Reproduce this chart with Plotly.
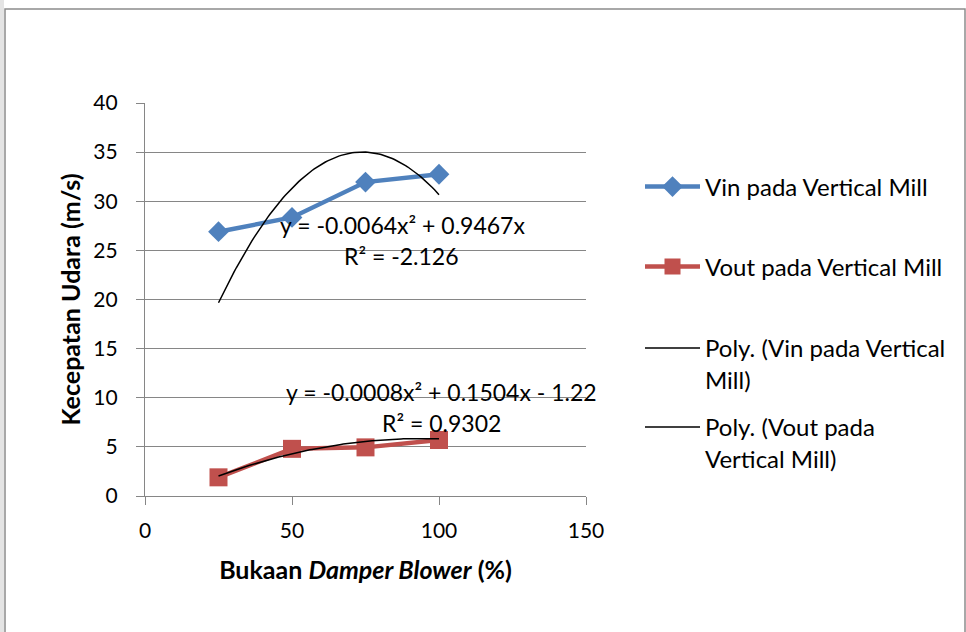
import plotly.graph_objects as go
import numpy as np

# ---- data ----
bukaan = [25, 50, 75, 100]
vin = [26.9, 28.35, 31.95, 32.75]
vout = [1.9, 4.8, 4.95, 5.7]

# trendline coefficients as shown on the chart (a*x^2 + b*x + c)
vin_poly = [-0.0064, 0.9467, 0.0]
vout_poly = [-0.0008, 0.1504, -1.22]

vin_eq = "y = -0.0064x² + 0.9467x"
vin_r2 = "R² = -2.126"
vout_eq = "y = -0.0008x² + 0.1504x - 1.22"
vout_r2 = "R² = 0.9302"

x_ticks = [0, 50, 100, 150]
y_ticks = [0, 5, 10, 15, 20, 25, 30, 35, 40]

names = ["Vin pada Vertical Mill", "Vout pada Vertical Mill",
         "Poly. (Vin pada Vertical<br>Mill)", "Poly. (Vout pada<br>Vertical Mill)"]

# ---- layout geometry (pixels) ----
W, H = 966, 632
L, R, T, B = 145, 586, 103, 496
FONT = "Lato"
BLUE = "#4F81BD"
RED = "#C0504D"
GRID = "#868686"


def px(x):
    return (x - L) / (R - L)


def py(y):
    return (B - y) / (B - T)


xs = np.linspace(bukaan[0], bukaan[-1], 100)
vin_fit = np.polyval(vin_poly, xs)
vout_fit = np.polyval(vout_poly, xs)

fig = go.Figure()
fig.add_trace(go.Scatter(x=bukaan, y=vin, mode="lines+markers", name=names[0],
                         line=dict(color=BLUE, width=4.5),
                         marker=dict(symbol="diamond", size=16, color=BLUE),
                         legend="legend"))
fig.add_trace(go.Scatter(x=bukaan, y=vout, mode="lines+markers", name=names[1],
                         line=dict(color=RED, width=4.5),
                         marker=dict(symbol="square", size=18, color=RED),
                         legend="legend2"))
fig.add_trace(go.Scatter(x=xs, y=vin_fit, mode="lines", name=names[2],
                         line=dict(color="black", width=1.5), legend="legend3"))
fig.add_trace(go.Scatter(x=xs, y=vout_fit, mode="lines", name=names[3],
                         line=dict(color="black", width=1.5), legend="legend4"))

leg_common = dict(font=dict(family=FONT, size=24, color="black"), itemwidth=55,
                  bgcolor="rgba(0,0,0,0)", xanchor="left", yanchor="middle",
                  valign="top", itemclick=False, itemdoubleclick=False)
lx = px(640)
fig.update_layout(
    legend=dict(x=lx, y=py(187), **leg_common),
    legend2=dict(x=lx, y=py(267), **leg_common),
    legend3=dict(x=lx, y=py(364), **leg_common),
    legend4=dict(x=lx, y=py(443), **leg_common),
)

ann_font = dict(family=FONT, size=23, color="black")
annotations = [
    dict(text=vin_eq, x=px(402), y=py(225)),
    dict(text=vin_r2, x=px(401), y=py(256)),
    dict(text=vout_eq, x=px(441), y=py(392)),
    dict(text=vout_r2, x=px(441), y=py(423)),
]
for a in annotations:
    a.update(xref="paper", yref="paper", showarrow=False, font=ann_font,
             xanchor="center", yanchor="middle")

fig.update_layout(
    width=W, height=H,
    margin=dict(l=L, r=W - R, t=T, b=H - B),
    paper_bgcolor="white", plot_bgcolor="white",
    font=dict(family=FONT, size=20, color="black"),
    showlegend=True,
    annotations=annotations,
    shapes=[
        dict(type="rect", xref="paper", yref="paper",
             x0=px(0), x1=px(4), y0=py(640), y1=py(-5),
             fillcolor="#e4e4e4", line=dict(width=0), layer="below"),
        dict(type="rect", xref="paper", yref="paper",
             x0=px(5), x1=px(965), y0=py(640), y1=py(9),
             fillcolor="rgba(0,0,0,0)", line=dict(color="#8c8c8c", width=1.5)),
    ],
    xaxis=dict(range=[0, 150], tickvals=x_ticks, showgrid=False, zeroline=False,
               showline=True, linecolor=GRID, linewidth=1.2,
               ticks="outside", ticklen=8, tickcolor=GRID, tickwidth=1.2,
               ticklabelstandoff=8,
               tickfont=dict(family=FONT, size=21),
               title=dict(text="<b>Bukaan <i>Damper Blower</i> (%)</b>",
                          font=dict(family=FONT, size=25), standoff=20)),
    yaxis=dict(range=[0, 40], tickvals=y_ticks, showgrid=True, gridcolor=GRID,
               gridwidth=1.2, zeroline=False,
               showline=True, linecolor=GRID, linewidth=1.2,
               ticks="outside", ticklen=8, tickcolor=GRID, tickwidth=1.2,
               ticklabelstandoff=14,
               tickfont=dict(family=FONT, size=21),
               title=dict(text="<b>Kecepatan Udara (m/s)</b>",
                          font=dict(family=FONT, size=25), standoff=5)),
)

fig.write_html("out.html")
